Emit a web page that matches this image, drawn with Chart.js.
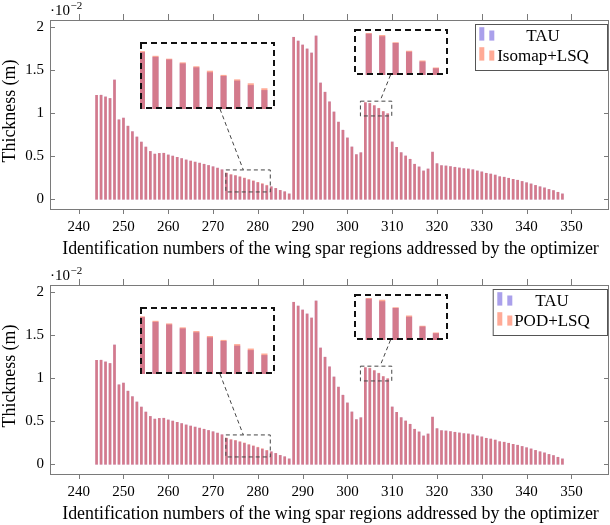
<!DOCTYPE html>
<html><head><meta charset="utf-8">
<script src="https://cdn.jsdelivr.net/npm/chart.js@4.4.1/dist/chart.umd.min.js"></script>
<style>
html,body{margin:0;padding:0;background:#fff;overflow:hidden;}
#wrap{position:relative;width:610px;height:525px;overflow:hidden;}
canvas{position:absolute;}
</style></head><body>
<div id="wrap">
<canvas id="topChart" width="610" height="265" style="left:0;top:0"></canvas>
<canvas id="bottomChart" width="610" height="260" style="left:0;top:265px"></canvas>
</div>
<script>
// ---------- data (thickness values in units of 1e-2 m) ----------
const regionIds = [
 244,245,246,247,248,249,250,251,252,253,
 254,255,256,257,258,259,260,261,262,263,
 264,265,266,267,268,269,270,271,272,273,
 274,275,276,277,278,279,280,281,282,283,
 284,285,286,287,288,289,290,291,292,293,
 294,295,296,297,298,299,300,301,302,303,
 304,305,306,307,308,309,310,311,312,313,
 314,315,316,317,318,319,320,321,322,323,
 324,325,326,327,328,329,330,331,332,333,
 334,335,336,337,338,339,340,341,342,343,
 344,345,346,347,348
];
const tauThickness = [
 1.209,1.210,1.190,1.172,1.387,0.924,0.944,0.850,0.786,0.724,
 0.665,0.607,0.556,0.525,0.533,0.535,0.515,0.502,0.488,0.473,
 0.457,0.444,0.432,0.420,0.407,0.393,0.378,0.362,0.343,0.301,
 0.283,0.273,0.258,0.243,0.224,0.210,0.192,0.175,0.156,0.145,
 0.126,0.103,0.087,0.062,1.884,1.840,1.794,1.748,1.701,1.899,
 1.352,1.245,1.133,1.015,0.897,0.803,0.713,0.608,0.519,0.541,
 1.122,1.113,1.087,1.055,1.018,0.993,0.666,0.604,0.542,0.503,
 0.465,0.407,0.376,0.329,0.352,0.548,0.414,0.391,0.387,0.380,
 0.372,0.364,0.356,0.352,0.343,0.329,0.318,0.302,0.293,0.281,
 0.262,0.256,0.244,0.232,0.221,0.207,0.192,0.178,0.161,0.145,
 0.132,0.114,0.101,0.081,0.062
];
const isomapThickness = [
 1.209,1.210,1.190,1.172,1.387,0.924,0.944,0.850,0.786,0.724,
 0.665,0.607,0.556,0.525,0.533,0.535,0.515,0.502,0.488,0.473,
 0.457,0.444,0.432,0.420,0.407,0.393,0.378,0.362,0.343,0.305,
 0.287,0.276,0.262,0.247,0.230,0.214,0.197,0.182,0.163,0.145,
 0.126,0.103,0.087,0.062,1.884,1.840,1.794,1.748,1.701,1.899,
 1.352,1.245,1.133,1.015,0.897,0.803,0.713,0.608,0.519,0.541,
 1.125,1.117,1.090,1.058,1.022,0.996,0.666,0.604,0.542,0.503,
 0.465,0.407,0.376,0.329,0.352,0.548,0.414,0.391,0.387,0.380,
 0.372,0.364,0.356,0.352,0.343,0.329,0.318,0.302,0.293,0.281,
 0.262,0.256,0.244,0.232,0.221,0.207,0.192,0.178,0.161,0.145,
 0.132,0.114,0.101,0.081,0.062
];
const podThickness = [
 1.209,1.210,1.190,1.172,1.387,0.924,0.944,0.850,0.786,0.724,
 0.665,0.607,0.556,0.525,0.533,0.535,0.515,0.502,0.488,0.473,
 0.457,0.444,0.432,0.420,0.407,0.393,0.378,0.362,0.343,0.304,
 0.287,0.277,0.262,0.248,0.229,0.214,0.198,0.181,0.162,0.145,
 0.126,0.103,0.087,0.062,1.884,1.840,1.794,1.748,1.701,1.899,
 1.352,1.245,1.133,1.015,0.897,0.803,0.713,0.608,0.519,0.541,
 1.125,1.118,1.090,1.059,1.021,0.996,0.666,0.604,0.542,0.503,
 0.465,0.407,0.376,0.329,0.352,0.548,0.414,0.391,0.387,0.380,
 0.372,0.364,0.356,0.352,0.343,0.329,0.318,0.302,0.293,0.281,
 0.262,0.256,0.244,0.232,0.221,0.207,0.192,0.178,0.161,0.145,
 0.132,0.114,0.101,0.081,0.062
];
const xTickValues = [240,250,260,270,280,290,300,310,320,330,340,350];
const yTickValues = [0,0.5,1,1.5,2];
const seriesTau = 'TAU';
const seriesIsomap = 'Isomap+LSQ';
const seriesPod = 'POD+LSQ';
const xTitle = 'Identification numbers of the wing spar regions addressed by the optimizer';
const yTitle = 'Thickness (m)';
const exponentBase = '·10';
const exponentPower = '−2';

// ---------- view / style settings ----------
const X_MIN = 233.6, X_MAX = 358.4, Y_MIN = -0.125, Y_MAX = 2.085;
const TAU_COLOR = 'rgba(85,65,215,0.5)';
const CMP_COLOR = 'rgba(255,85,45,0.5)';
const FRAME = '#7a7a7a';
const SERIF = '"Liberation Serif", "DejaVu Serif", serif';
const insetViews = [
  {xMin:272.86, xMax:282.78, yMin:0.085, yMax:0.341, box:{left:140, top:42, width:135, height:67}, link:{from:220, to:243.3}},
  {xMin:302.9,  xMax:309.9,  yMin:0.969, yMax:1.141, box:{left:354, top:29, width:94, height:46}, link:{from:390.5, to:380}}
];

function points(values){ return regionIds.map((id,i)=>({x:id, y:values[i]})); }

function datasets(cmpName, cmpValues, thickness){
  return [
    {label:seriesTau, data:points(tauThickness), backgroundColor:TAU_COLOR, barThickness:thickness, grouped:false, order:1, clip:0},
    {label:cmpName, data:points(cmpValues), backgroundColor:CMP_COLOR, barThickness:thickness, grouped:false, order:0, clip:0}
  ];
}

function mainChart(canvasId, cmpName, cmpValues, legend){
  const canvas = document.getElementById(canvasId);
  const H = canvas.height;
  const decor = {
    id:'decor',
    afterDraw(chart){
      const ctx = chart.ctx, a = chart.chartArea, xs = chart.scales.x, ys = chart.scales.y;
      ctx.save();
      // frame
      ctx.strokeStyle = FRAME; ctx.lineWidth = 1;
      ctx.strokeRect(a.left+0.5, a.top+0.5, a.right-a.left-1, a.bottom-a.top-1);
      // x ticks (outside, top & bottom)
      ctx.beginPath();
      xTickValues.forEach(v=>{
        const p = Math.round(xs.getPixelForValue(v))+0.5;
        ctx.moveTo(p, a.top); ctx.lineTo(p, a.top-6);
        ctx.moveTo(p, a.bottom); ctx.lineTo(p, a.bottom+4);
      });
      // y ticks (inside, left & right)
      yTickValues.forEach(v=>{
        const p = Math.round(ys.getPixelForValue(v))+0.5;
        ctx.moveTo(a.left, p); ctx.lineTo(a.left+5, p);
        ctx.moveTo(a.right, p); ctx.lineTo(a.right-5, p);
      });
      ctx.stroke();
      // exponent label
      ctx.fillStyle = '#000';
      ctx.textBaseline = 'alphabetic'; ctx.textAlign = 'left';
      ctx.font = '15px ' + SERIF;
      ctx.fillText(exponentBase, a.left, 15);
      const w = ctx.measureText(exponentBase).width;
      ctx.font = '11px ' + SERIF;
      ctx.fillText(exponentPower, a.left + w + 0.5, 9);
      // axis titles
      ctx.font = '17.9px ' + SERIF;
      ctx.textAlign = 'center'; ctx.textBaseline = 'middle';
      ctx.fillText(xTitle, (a.left+a.right)/2 + 1, 249.5);
      ctx.save();
      ctx.translate(10, 111); ctx.rotate(-Math.PI/2);
      ctx.fillText(yTitle, 0, 0);
      ctx.restore();
      // legend
      const L = legend;
      ctx.fillStyle = '#fff';
      ctx.fillRect(L.left, L.top, L.right-L.left, L.bottom-L.top);
      ctx.strokeStyle = '#555'; ctx.lineWidth = 1;
      ctx.strokeRect(L.left+0.5, L.top+0.5, L.right-L.left, L.bottom-L.top);
      chart.data.datasets.forEach((ds,i)=>{
        const cy = L.top + 12.7 + i*20;
        ctx.fillStyle = ds.backgroundColor;
        ctx.fillRect(L.sw1, cy-9.5, 5, 13.4);
        ctx.fillRect(L.sw1+10, cy-6.2, 5, 10.1);
        ctx.fillStyle = '#000';
        ctx.font = '17px ' + SERIF;
        ctx.textAlign = 'center'; ctx.textBaseline = 'middle';
        ctx.fillText(ds.label, L.textX, cy);
      });
      // zoom source boxes & connectors
      ctx.setLineDash([4,3]);
      ctx.strokeStyle = '#444'; ctx.lineWidth = 1;
      insetViews.forEach(v=>{
        const x1 = xs.getPixelForValue(v.xMin), x2 = xs.getPixelForValue(v.xMax);
        const y1 = ys.getPixelForValue(v.yMax), y2 = ys.getPixelForValue(v.yMin);
        ctx.strokeRect(x1, y1, x2-x1, y2-y1);
        ctx.beginPath();
        ctx.moveTo(v.link.from, v.box.top + v.box.height);
        ctx.lineTo(v.link.to, y1);
        ctx.stroke();
      });
      ctx.restore();
    }
  };
  const chart = new Chart(canvas, {
    type:'bar',
    data:{datasets:datasets(cmpName, cmpValues, 2)},
    options:{
      responsive:false, animation:false, events:[],
      layout:{padding:{top:20, right:1, left:0, bottom:0}},
      plugins:{legend:{display:false}, tooltip:{enabled:false}},
      scales:{
        x:{type:'linear', min:X_MIN, max:X_MAX, offset:false,
           grid:{display:false, drawTicks:false, offset:false}, border:{display:false},
           ticks:{color:'#000', font:{family:SERIF, size:15}, padding:8, maxRotation:0, autoSkip:false,
                  callback:v=>String(v)},
           afterBuildTicks:s=>{ s.ticks = xTickValues.map(v=>({value:v})); },
           afterFit:s=>{ s.height = H - 210; }},
        y:{type:'linear', min:Y_MIN, max:Y_MAX,
           grid:{display:false, drawTicks:false}, border:{display:false},
           ticks:{color:'#000', font:{family:SERIF, size:15}, padding:6,
                  callback:v=>String(v)},
           afterBuildTicks:s=>{ s.ticks = yTickValues.map(v=>({value:v})); },
           afterFit:s=>{ s.width = 50; }}
      }
    },
    plugins:[decor]
  });
  // insets
  const wrap = document.getElementById('wrap');
  const offsetTop = parseFloat(canvas.style.top) || 0;
  insetViews.forEach(v=>{
    const c = document.createElement('canvas');
    c.width = v.box.width; c.height = v.box.height;
    c.style.left = v.box.left + 'px';
    c.style.top = (v.box.top + offsetTop) + 'px';
    wrap.appendChild(c);
    new Chart(c, {
      type:'bar',
      data:{datasets:datasets(cmpName, cmpValues, 5.5)},
      options:{
        responsive:false, animation:false, events:[],
        layout:{padding:0},
        plugins:{legend:{display:false}, tooltip:{enabled:false}},
        scales:{
          x:{type:'linear', display:false, min:v.xMin, max:v.xMax, offset:false},
          y:{type:'linear', display:false, min:v.yMin, max:v.yMax}
        }
      },
      plugins:[{id:'insetFrame', afterDraw(ch){
        const ctx = ch.ctx;
        ctx.save();
        ctx.setLineDash([6,4]);
        ctx.strokeStyle = '#111'; ctx.lineWidth = 2;
        ctx.strokeRect(1, 1, ch.width-2, ch.height-2);
        ctx.restore();
      }}]
    });
  });
  return chart;
}

mainChart('topChart', seriesIsomap, isomapThickness, {left:475, top:24, right:607, bottom:70, sw1:479.3, textX:543});
mainChart('bottomChart', seriesPod, podThickness, {left:492.7, top:24, right:607, bottom:70, sw1:497.3, textX:552});
</script>
</body></html>
